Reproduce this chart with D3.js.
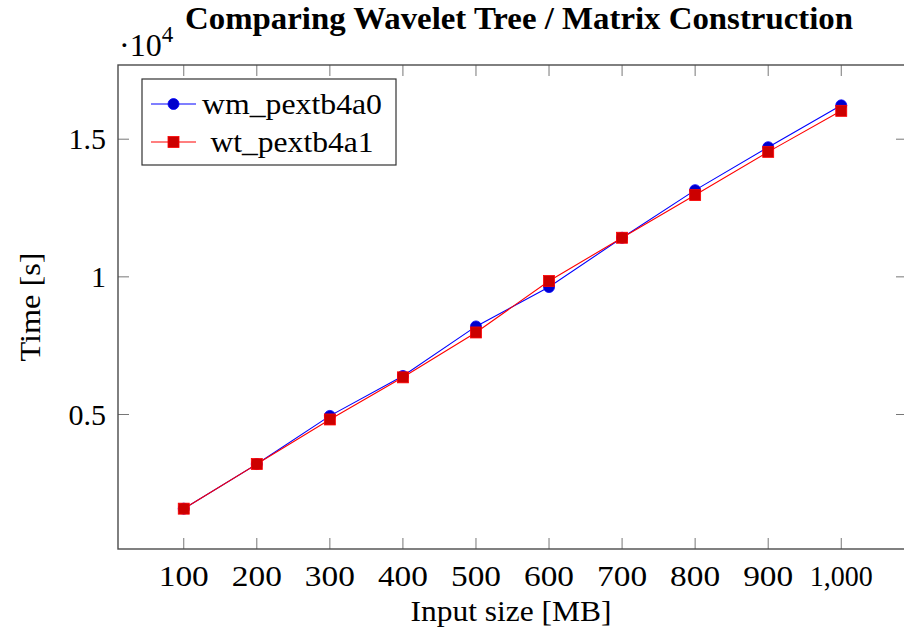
<!DOCTYPE html>
<html>
<head>
<meta charset="utf-8">
<script src="https://cdn.jsdelivr.net/npm/d3@7"></script>
<style>
  body { margin: 0; background: #fff; }
  text { font-family: "Liberation Serif", "DejaVu Serif", serif; }
</style>
</head>
<body>
<div id="viz"></div>
<script>
"use strict";

// input sizes in MB
var sizes = [100, 200, 300, 400, 500, 600, 700, 800, 900, 1000];
// construction times in seconds
var wmTimes = [1580, 3200, 4950, 6400, 8200, 9630, 11420, 13150, 14710, 16230];
var wtTimes = [1580, 3200, 4820, 6350, 7980, 9850, 11420, 12970, 14540, 16030];
var seriesNames = ["wm_pextb4a0", "wt_pextb4a1"];
var xTicks = [100, 200, 300, 400, 500, 600, 700, 800, 900, 1000];
var yTicks = [5000, 10000, 15000];

var width = 904, height = 633,
	plotLeft = 118, plotRight = 907, plotTop = 65, plotBottom = 549,
	fontSize = 30

var svg = d3.select("#viz")
	.append("svg")
	.attr("width", width)
	.attr("height", height)

// pgfplots style: enlarge limits by 10% of the range on each side
var enlarge = function(ext) {
	var pad = (ext[1] - ext[0]) * 0.1
	return [ext[0] - pad, ext[1] + pad]
}

var x = d3.scaleLinear()
	.domain(enlarge(d3.extent(sizes)))
	.range([plotLeft, plotRight])

var allTimes = wmTimes.concat(wtTimes)
var y = d3.scaleLinear()
	.domain(enlarge(d3.extent(allTimes)))
	.range([plotBottom, plotTop])

var axisColor = "#4a4a4a",
	tickColor = "#777",
	tickLen = 11

// ticks: drawn inward on all four sides
var gTicks = svg.append("g")
xTicks.forEach(function(t) {
	gTicks.append("line").attr("x1", x(t)).attr("x2", x(t))
		.attr("y1", plotBottom).attr("y2", plotBottom - tickLen)
		.attr("stroke", tickColor).attr("stroke-width", 1)
	gTicks.append("line").attr("x1", x(t)).attr("x2", x(t))
		.attr("y1", plotTop).attr("y2", plotTop + tickLen)
		.attr("stroke", tickColor).attr("stroke-width", 1)
})
yTicks.forEach(function(t) {
	gTicks.append("line").attr("x1", plotLeft).attr("x2", plotLeft + tickLen)
		.attr("y1", y(t)).attr("y2", y(t))
		.attr("stroke", tickColor).attr("stroke-width", 1)
	gTicks.append("line").attr("x1", plotRight).attr("x2", plotRight - tickLen)
		.attr("y1", y(t)).attr("y2", y(t))
		.attr("stroke", tickColor).attr("stroke-width", 1)
})

// frame
svg.append("rect")
	.attr("x", plotLeft).attr("y", plotTop)
	.attr("width", plotRight - plotLeft).attr("height", plotBottom - plotTop)
	.attr("fill", "none")
	.attr("stroke", axisColor)
	.attr("stroke-width", 1.4)

// tick labels
var xFmt = d3.format(",")
svg.append("g").selectAll("text")
	.data(xTicks)
	.enter()
	.append("text")
	.attr("x", function(d) { return x(d) })
	.attr("y", 586)
	.attr("text-anchor", "middle")
	.attr("font-size", fontSize)
	.attr("textLength", function(d) { return d < 1000 ? 50 : 63 })
	.attr("lengthAdjust", "spacingAndGlyphs")
	.text(function(d) { return xFmt(d) })

svg.append("g").selectAll("text")
	.data(yTicks)
	.enter()
	.append("text")
	.attr("x", 106)
	.attr("y", function(d) { return y(d) + 10 })
	.attr("text-anchor", "end")
	.attr("font-size", fontSize)
	.text(function(d) { return d / 10000 })

// scale factor label
var sf = svg.append("text")
	.attr("x", 119)
	.attr("y", 56)
	.attr("font-size", 32)
sf.append("tspan").text("\u00b710")
sf.append("tspan").attr("font-size", 23).attr("dy", -14).text("4")

// title and axis labels
svg.append("text")
	.attr("x", 519)
	.attr("y", 29)
	.attr("text-anchor", "middle")
	.attr("font-size", 32)
	.attr("font-weight", "bold")
	.attr("textLength", 668)
	.attr("lengthAdjust", "spacingAndGlyphs")
	.text("Comparing Wavelet Tree / Matrix Construction")

svg.append("text")
	.attr("x", 511)
	.attr("y", 621)
	.attr("text-anchor", "middle")
	.attr("font-size", fontSize)
	.attr("textLength", 201)
	.attr("lengthAdjust", "spacingAndGlyphs")
	.text("Input size [MB]")

svg.append("text")
	.attr("transform", "translate(40," + 307 + ") rotate(-90)")
	.attr("text-anchor", "middle")
	.attr("font-size", fontSize)
	.attr("textLength", 109)
	.attr("lengthAdjust", "spacingAndGlyphs")
	.text("Time [s]")

// series
var lineFunction = d3.line()
	.x(function(d) { return x(d[0]) })
	.y(function(d) { return y(d[1]) })

var wmData = sizes.map(function(s, i) { return [s, wmTimes[i]] })
var wtData = sizes.map(function(s, i) { return [s, wtTimes[i]] })

var drawCircles = function(g, data, cx, cy) {
	g.selectAll("circle")
		.data(data)
		.enter()
		.append("circle")
		.attr("cx", cx)
		.attr("cy", cy)
		.attr("r", 5.5)
		.attr("fill", "#0000cc")
		.attr("stroke", "#0000ff")
		.attr("stroke-width", 0.8)
}

var drawSquares = function(g, data, cx, cy) {
	g.selectAll("rect.mark")
		.data(data)
		.enter()
		.append("rect")
		.attr("class", "mark")
		.attr("x", function(d) { return cx(d) - 5.5 })
		.attr("y", function(d) { return cy(d) - 5.5 })
		.attr("width", 11)
		.attr("height", 11)
		.attr("fill", "#cc0000")
		.attr("stroke", "#ff0000")
		.attr("stroke-width", 0.8)
}

var gWm = svg.append("g")
gWm.append("path")
	.attr("d", lineFunction(wmData))
	.attr("fill", "none")
	.attr("stroke", "#0000ff")
	.attr("stroke-width", 1.1)
drawCircles(gWm, wmData, function(d) { return x(d[0]) }, function(d) { return y(d[1]) })

var gWt = svg.append("g")
gWt.append("path")
	.attr("d", lineFunction(wtData))
	.attr("fill", "none")
	.attr("stroke", "#ff0000")
	.attr("stroke-width", 1.1)
drawSquares(gWt, wtData, function(d) { return x(d[0]) }, function(d) { return y(d[1]) })

// legend
var legend = svg.append("g")
legend.append("rect")
	.attr("x", 142).attr("y", 79)
	.attr("width", 254).attr("height", 86)
	.attr("fill", "#fff")
	.attr("stroke", "#333")
	.attr("stroke-width", 1.2)

var rowY = [104, 142]
var lineColors = ["#0000ff", "#ff0000"]
var legendWidths = [180, 163]
seriesNames.forEach(function(name, i) {
	legend.append("line")
		.attr("x1", 151).attr("x2", 196)
		.attr("y1", rowY[i]).attr("y2", rowY[i])
		.attr("stroke", lineColors[i])
		.attr("stroke-width", 1.1)
	legend.append("text")
		.attr("x", 292)
		.attr("y", rowY[i] + 10)
		.attr("text-anchor", "middle")
		.attr("font-size", fontSize)
		.attr("textLength", legendWidths[i])
		.attr("lengthAdjust", "spacingAndGlyphs")
		.text(name)
})
drawCircles(legend, [0], 173.5, rowY[0])
drawSquares(legend, [0], function() { return 173.5 }, function() { return rowY[1] })
</script>
</body>
</html>
